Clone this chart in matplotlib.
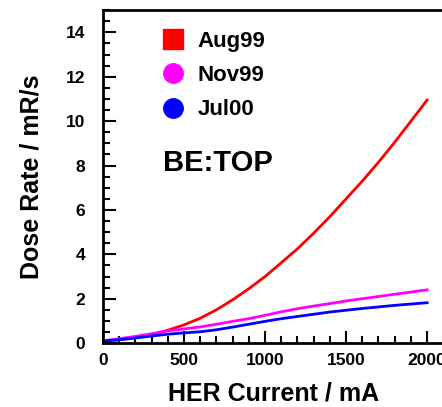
import numpy as np
import matplotlib.pyplot as plt
from matplotlib.lines import Line2D
from matplotlib.ticker import MultipleLocator

# HER current (mA) and dose rate (mR/s)
current = [0, 100, 200, 300, 400, 500, 600, 700, 800, 900, 1000, 1100, 1200,
           1300, 1400, 1500, 1600, 1700, 1800, 1900, 2000]
aug99 = [0.1, 0.15, 0.25, 0.38, 0.58, 0.82, 1.12, 1.5, 1.95, 2.45, 3.0, 3.62, 4.25,
         4.95, 5.7, 6.5, 7.3, 8.15, 9.05, 10.0, 10.95]
nov99 = [0.1, 0.2, 0.3, 0.42, 0.55, 0.64, 0.73, 0.85, 0.98, 1.1, 1.25, 1.41, 1.55,
         1.67, 1.78, 1.9, 2.0, 2.1, 2.2, 2.3, 2.4]
jul00 = [0.1, 0.15, 0.23, 0.32, 0.4, 0.46, 0.51, 0.6, 0.72, 0.85, 0.98, 1.1, 1.2,
         1.3, 1.4, 1.48, 1.56, 1.63, 1.7, 1.76, 1.82]

labels = ['Aug99', 'Nov99', 'Jul00']
colors = ['#ff0000', '#ff00ff', '#0000ff']

plt.rcParams['font.family'] = ['Liberation Sans', 'DejaVu Sans']
plt.rcParams['font.weight'] = 'bold'

fig = plt.figure(figsize=(4.42, 4.07), dpi=100)
ax = fig.add_axes([0.233, 0.157, 0.77, 0.818])

for y, c in zip([aug99, nov99, jul00], colors):
    ax.plot(current, y, color=c, lw=2)

ax.set_xlim(0, 2100)
ax.set_ylim(0, 15)
ax.xaxis.set_major_locator(MultipleLocator(500))
ax.xaxis.set_minor_locator(MultipleLocator(100))
ax.yaxis.set_major_locator(MultipleLocator(2))
ax.yaxis.set_minor_locator(MultipleLocator(0.5))
ax.tick_params(which='both', direction='in', width=1.5, labelsize=12.5)
ax.tick_params(which='major', length=9)
ax.tick_params(which='minor', length=5)
ax.tick_params(axis='y', pad=13)
ax.tick_params(axis='x', pad=7)
for s in ax.spines.values():
    s.set_linewidth(2)

ax.set_xlabel('HER Current / mA', fontsize=18, fontweight='bold', labelpad=10)
ax.set_ylabel('Dose Rate / mR/s', fontsize=18, fontweight='bold', labelpad=16)

handles = [Line2D([], [], ls='none', marker=m, color=c, markersize=14)
           for m, c in zip(['s', 'o', 'o'], colors)]
ax.legend(handles, labels, loc='upper left', bbox_to_anchor=(0.095, 0.985),
          frameon=False, fontsize=16, handletextpad=0.1, labelspacing=0.6,
          borderpad=0.2)

ax.text(0.175, 0.54, 'BE:TOP', transform=ax.transAxes, fontsize=21,
        fontweight='bold', va='center')

fig.savefig('out.png', dpi=100)
